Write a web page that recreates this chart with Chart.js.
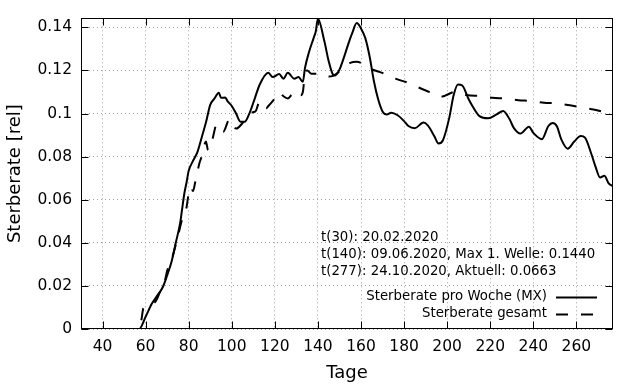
<!DOCTYPE html>
<html>
<head>
<meta charset="utf-8">
<script src="https://cdn.jsdelivr.net/npm/chart.js@4"></script>
<style>
  body { margin: 0; background: #fff; }
</style>
</head>
<body>
<canvas id="chart" width="640" height="384"></canvas>
<script>
// --- DATA ---
const mxDays = [38, 57, 60, 63, 65, 68, 70, 72, 74, 76, 77, 78, 79, 80, 82, 84, 86, 88, 90, 92,
  94, 95, 97, 98, 100, 102, 104, 106, 108, 110, 113, 117, 119, 122, 124, 126, 129, 131, 133, 134,
  136, 138, 139, 140, 143, 145, 147, 148, 150, 152, 154, 156, 158, 160, 162, 164, 166, 168, 170, 172,
  174, 177, 180, 182, 185, 189, 191, 194, 196, 198, 201, 203, 205, 207, 210, 212, 215, 219, 223, 226,
  229, 231, 234, 238, 240, 244, 247, 249, 251, 253, 256, 259, 262, 264, 267, 269, 271, 273, 275, 277];
const mxRate = [0, 0, 0.0057, 0.0119, 0.0149, 0.0195, 0.0249, 0.0311, 0.0400, 0.0490,
  0.0560, 0.0630, 0.0680, 0.0734, 0.0780, 0.0820, 0.0888, 0.0958, 0.1040, 0.1070,
  0.1096, 0.1073, 0.1074, 0.1058, 0.1035, 0.1000, 0.0962, 0.0962, 0.0996, 0.1050,
  0.1135, 0.1189, 0.1169, 0.1183, 0.1162, 0.1189, 0.1162, 0.1169, 0.1147, 0.1212,
  0.1290, 0.1350, 0.1381, 0.1440, 0.1335, 0.1243, 0.1181, 0.1177, 0.1204, 0.1258,
  0.1320, 0.1375, 0.1420, 0.1395, 0.1350, 0.1265, 0.1150, 0.1065, 0.1010, 0.0996,
  0.1004, 0.0992, 0.0965, 0.0942, 0.0932, 0.0958, 0.0945, 0.0896, 0.0861, 0.0875,
  0.0981, 0.1085, 0.1135, 0.1130, 0.1066, 0.1030, 0.0988, 0.0978, 0.0996, 0.1012,
  0.0973, 0.0932, 0.0907, 0.0939, 0.0910, 0.0881, 0.0942, 0.0956, 0.0940, 0.0880,
  0.0837, 0.0870, 0.0896, 0.0888, 0.0811, 0.0750, 0.0703, 0.0711, 0.0676, 0.0663];

const totalDays = [38, 57, 58, 59, 62, 65, 67, 69, 70, 72, 75, 77, 79, 80, 81, 82, 83, 85, 86, 88,
  89, 91, 93, 96, 99, 102, 105, 108, 111, 113, 116, 117, 120, 122, 124, 126, 128, 130, 132, 133,
  134, 135, 137, 140, 143, 145, 147, 151, 155, 158, 161, 165, 168, 172, 176, 182, 186, 193, 195, 197,
  204, 209, 216, 221, 227, 233, 239, 245, 251, 257, 263, 268, 274, 277];
const totalRate = [0, 0, 0.004, 0.0097, 0.011, 0.0134, 0.018, 0.0226, 0.027, 0.032,
  0.043, 0.0511, 0.0565, 0.063, 0.066, 0.064, 0.068, 0.077, 0.080, 0.087,
  0.083, 0.088, 0.095, 0.0915, 0.0975, 0.093, 0.0956, 0.1002, 0.101, 0.1058,
  0.1025, 0.1035, 0.107, 0.110, 0.108, 0.107, 0.109, 0.1105, 0.1085, 0.110,
  0.1185, 0.120, 0.1185, 0.1185, 0.1184, 0.1172, 0.1175, 0.1204, 0.1235, 0.124,
  0.123, 0.1205, 0.1195, 0.1181, 0.1162, 0.1142, 0.1124, 0.1096, 0.1092, 0.1078,
  0.1101, 0.1086, 0.1081, 0.1073, 0.107, 0.1062, 0.1058, 0.105, 0.1047, 0.1038,
  0.1027, 0.1019, 0.1004, 0.0996];

const xTicks = [40, 60, 80, 100, 120, 140, 160, 180, 200, 220, 240, 260];
const yTicks = [0, 0.02, 0.04, 0.06, 0.08, 0.1, 0.12, 0.14];

const notes = [
  't(30): 20.02.2020',
  't(140): 09.06.2020, Max 1. Welle: 0.1440',
  't(277): 24.10.2020, Aktuell: 0.0663'
];

const FONT = '"DejaVu Sans", sans-serif';
const DASH = [12, 13];

function toPoints(xs, ys) {
  return xs.map((x, i) => ({ x: x, y: ys[i] }));
}

// gnuplot look: frame, inward ticks on all sides, label block and key
const gnuplotDecor = {
  id: 'gnuplotDecor',
  afterDatasetsDraw(chart) {
    const ctx = chart.ctx;
    const a = chart.chartArea;
    const sx = chart.scales.x, sy = chart.scales.y;
    const L = Math.round(a.left) + 0.5, R = Math.round(a.right) - 0.5;
    const T = Math.round(a.top) + 0.5, B = Math.round(a.bottom) - 0.5;

    ctx.save();
    ctx.strokeStyle = '#000';
    ctx.lineWidth = 1;
    ctx.setLineDash([]);
    ctx.strokeRect(L, T, R - L, B - T);

    ctx.beginPath();
    xTicks.forEach(v => {
      const px = Math.round(sx.getPixelForValue(v)) + 0.5;
      ctx.moveTo(px, B); ctx.lineTo(px, B - 7);
      ctx.moveTo(px, T); ctx.lineTo(px, T + 7);
    });
    yTicks.forEach(v => {
      const py = Math.round(sy.getPixelForValue(v)) + 0.5;
      ctx.moveTo(L, py); ctx.lineTo(L + 7, py);
      ctx.moveTo(R, py); ctx.lineTo(R - 7, py);
    });
    ctx.stroke();

    // label block
    ctx.fillStyle = '#000';
    ctx.font = '13.3px ' + FONT;
    ctx.textBaseline = 'middle';
    ctx.textAlign = 'left';
    notes.forEach((t, i) => ctx.fillText(t, a.left + 240, a.top + 219 + i * 17));

    // key, bottom right
    ctx.textAlign = 'right';
    chart.data.datasets.forEach((ds, i) => {
      const y = a.bottom - 32 + i * 17;
      ctx.fillText(ds.label, a.right - 66, y);
      ctx.beginPath();
      ctx.lineWidth = 2;
      ctx.setLineDash(ds.borderDash || []);
      ctx.moveTo(a.right - 57, y + 0.5);
      ctx.lineTo(a.right - 16, y + 0.5);
      ctx.stroke();
    });
    ctx.restore();
  }
};

const ctx = document.getElementById('chart');
new Chart(ctx, {
  type: 'line',
  data: {
    datasets: [{
      label: 'Sterberate pro Woche (MX)',
      data: toPoints(mxDays, mxRate),
      borderColor: '#000',
      borderWidth: 2,
      pointRadius: 0,
      cubicInterpolationMode: 'monotone',
      fill: false
    }, {
      label: 'Sterberate gesamt',
      data: toPoints(totalDays, totalRate),
      borderColor: '#000',
      borderWidth: 2,
      borderDash: DASH,
      pointRadius: 0,
      cubicInterpolationMode: 'monotone',
      fill: false
    }]
  },
  options: {
    responsive: false,
    animation: false,
    layout: { padding: { left: 0, right: 27, top: 17, bottom: 0 } },
    plugins: {
      legend: { display: false },
      tooltip: { enabled: false }
    },
    scales: {
      x: {
        type: 'linear',
        min: 30,
        max: 277,
        afterBuildTicks: s => { s.ticks = xTicks.map(v => ({ value: v })); },
        afterFit: s => { s.height = 55; },
        grid: { color: '#a0a0a0', lineWidth: 1, drawTicks: false },
        border: { display: false, dash: [1, 3] },
        ticks: { color: '#000', padding: 9, maxRotation: 0, font: { family: FONT, size: 15.5 } },
        title: { display: true, text: 'Tage', color: '#000', padding: { top: 0, bottom: 0 }, font: { family: FONT, size: 18 } }
      },
      y: {
        min: 0,
        max: 0.1442,
        afterBuildTicks: s => { s.ticks = yTicks.map(v => ({ value: v })); },
        afterFit: s => { s.width = 81; },
        grid: { color: '#a0a0a0', lineWidth: 1, drawTicks: false },
        border: { display: false, dash: [1, 3] },
        ticks: {
          color: '#000', padding: 9, font: { family: FONT, size: 15.5 },
          callback: v => String(+v.toFixed(2))
        },
        title: { display: true, text: 'Sterberate [rel]', color: '#000', padding: { top: 5, bottom: 0 }, font: { family: FONT, size: 18 } }
      }
    }
  },
  plugins: [gnuplotDecor]
});
</script>
</body>
</html>
